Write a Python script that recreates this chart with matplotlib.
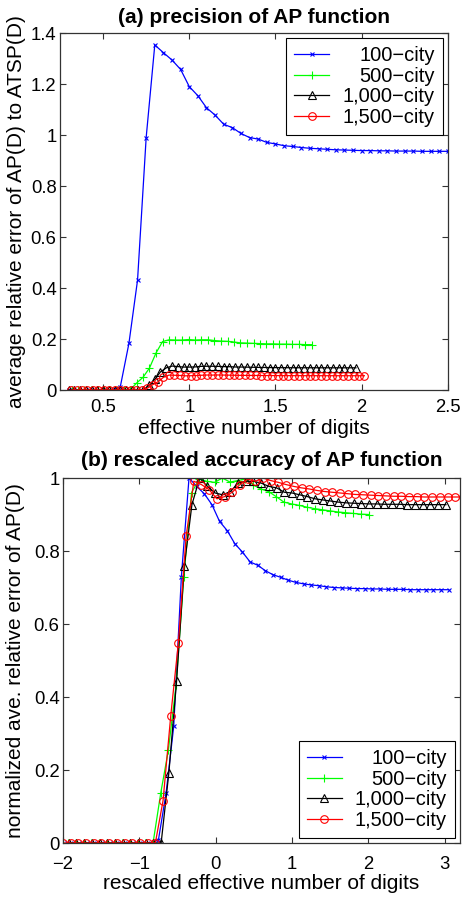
import matplotlib
matplotlib.use('Agg')
import matplotlib.pyplot as plt
from matplotlib.ticker import FixedLocator, FuncFormatter

plt.rcParams['font.family'] = ['Liberation Sans', 'DejaVu Sans']
plt.rcParams['axes.unicode_minus'] = True

# ---------------- data ----------------
labels = ["100\u2212city", "500\u2212city", "1,000\u2212city", "1,500\u2212city"]
colors = ["#0000ff", "#00ff00", "#000000", "#ff0000"]
markers = ["x", "+", "^", "o"]
msizes = [3.5, 5.5, 5.5, 5.5]

# (a) precision of AP function
a_x_100 = [0.30, 0.35, 0.40, 0.45, 0.50, 0.55, 0.60, 0.65, 0.70, 0.75, 0.80, 0.85, 0.90, 0.95,
           1.00, 1.05, 1.10, 1.15, 1.20, 1.25, 1.30, 1.35, 1.40, 1.45, 1.50, 1.55, 1.60, 1.65,
           1.70, 1.75, 1.80, 1.85, 1.90, 1.95, 2.00, 2.05, 2.10, 2.15, 2.20, 2.25, 2.30, 2.35,
           2.40, 2.45, 2.50]
a_y_100 = [0, 0, 0, 0, 0, 0, 0.013, 0.183, 0.431, 0.99, 1.353, 1.323, 1.294, 1.257,
           1.19, 1.154, 1.107, 1.078, 1.042, 1.029, 1.006, 0.99, 0.984, 0.971, 0.965, 0.958,
           0.955, 0.951, 0.948, 0.946, 0.944, 0.942, 0.941, 0.940, 0.939, 0.939, 0.938, 0.938,
           0.937, 0.937, 0.937, 0.936, 0.936, 0.936, 0.936]

a_x_500 = [0.317, 0.355, 0.392, 0.430, 0.468, 0.506, 0.543, 0.581, 0.619, 0.656, 0.694, 0.732,
           0.769, 0.807, 0.845, 0.883, 0.920, 0.958, 0.996, 1.033, 1.071, 1.109, 1.146, 1.184,
           1.222, 1.260, 1.297, 1.335, 1.373, 1.410, 1.448, 1.486, 1.523, 1.561, 1.599, 1.637,
           1.674, 1.712]
a_y_500 = [0, 0, 0, 0, 0, 0, 0, 0, 0, 0, 0.027, 0.05, 0.086, 0.145, 0.19, 0.197, 0.196, 0.196,
           0.198, 0.196, 0.197, 0.197, 0.194, 0.192, 0.191, 0.188, 0.185, 0.184, 0.183, 0.182,
           0.181, 0.181, 0.180, 0.180, 0.179, 0.179, 0.178, 0.178]

a_x_1000 = [0.300, 0.333, 0.367, 0.400, 0.433, 0.467, 0.500, 0.533, 0.567, 0.600, 0.633, 0.667,
            0.700, 0.733, 0.767, 0.800, 0.833, 0.867, 0.900, 0.933, 0.967, 1.000, 1.033, 1.067,
            1.100, 1.133, 1.167, 1.200, 1.233, 1.267, 1.300, 1.333, 1.367, 1.400, 1.433, 1.467,
            1.500, 1.533, 1.567, 1.600, 1.633, 1.667, 1.700, 1.733, 1.767, 1.800, 1.833, 1.867,
            1.900, 1.933, 1.967]
a_y_1000 = [0, 0, 0, 0, 0, 0, 0, 0, 0, 0, 0, 0, 0, 0, 0.018, 0.042, 0.071, 0.087, 0.094, 0.092,
            0.090, 0.090, 0.0905, 0.0927, 0.0932, 0.0932, 0.0927, 0.0918, 0.0915, 0.0903, 0.0901,
            0.0897, 0.0892, 0.0886, 0.0884, 0.0881, 0.0878, 0.0876, 0.0875, 0.0874, 0.0873,
            0.0873, 0.0873, 0.0872, 0.0872, 0.0872, 0.0871, 0.0871, 0.0871, 0.0871, 0.0871]

a_x_1500 = [0.315, 0.346, 0.378, 0.409, 0.441, 0.472, 0.504, 0.535, 0.567, 0.598, 0.630, 0.661,
            0.693, 0.724, 0.756, 0.787, 0.819, 0.850, 0.882, 0.913, 0.945, 0.976, 1.008, 1.039,
            1.071, 1.102, 1.134, 1.165, 1.197, 1.228, 1.260, 1.291, 1.323, 1.354, 1.386, 1.417,
            1.449, 1.480, 1.512, 1.543, 1.575, 1.606, 1.638, 1.669, 1.701, 1.732, 1.764, 1.795,
            1.827, 1.858, 1.890, 1.921, 1.953, 1.984, 2.016]
a_y_1500 = [0, 0, 0, 0, 0, 0, 0, 0, 0, 0, 0, 0, 0, 0, 0.0068, 0.0206, 0.0324, 0.0496, 0.0585,
            0.0579, 0.0571, 0.0556, 0.056, 0.0567, 0.0579, 0.0588, 0.0585, 0.059, 0.0586, 0.0583,
            0.0579, 0.0576, 0.0574, 0.0572, 0.057, 0.0568, 0.0567, 0.0566, 0.0565, 0.0563,
            0.0563, 0.0562, 0.0562, 0.0561, 0.0561, 0.0561, 0.056, 0.056, 0.056, 0.056, 0.056,
            0.056, 0.056, 0.056, 0.056]

# (b) rescaled accuracy of AP function
b_x_100 = [-1.95, -1.85, -1.75, -1.65, -1.55, -1.45, -1.35, -1.25, -1.15, -1.05, -0.95, -0.85,
           -0.75, -0.65, -0.55, -0.45, -0.35, -0.25, -0.15, -0.05, 0.05, 0.15, 0.25, 0.35,
           0.45, 0.55, 0.65, 0.75, 0.85, 0.95, 1.05, 1.15, 1.25, 1.35, 1.45, 1.55, 1.65, 1.75,
           1.85, 1.95, 2.05, 2.15, 2.25, 2.35, 2.45, 2.55, 2.65, 2.75, 2.85, 2.95, 3.05]
b_y_100 = [0, 0, 0, 0, 0, 0, 0, 0, 0, 0, 0, 0, 0.009, 0.137, 0.32, 0.73, 1.0, 0.977, 0.957,
           0.927, 0.881, 0.856, 0.82, 0.797, 0.77, 0.761, 0.746, 0.735, 0.728, 0.72, 0.714,
           0.71, 0.707, 0.705, 0.702, 0.70, 0.699, 0.698, 0.697, 0.697, 0.696, 0.696, 0.695,
           0.695, 0.695, 0.694, 0.694, 0.694, 0.694, 0.694, 0.694]

b_x_500 = [-1.930, -1.829, -1.728, -1.628, -1.527, -1.426, -1.325, -1.224, -1.124, -1.023,
           -0.922, -0.821, -0.720, -0.620, -0.519, -0.418, -0.317, -0.216, -0.116, -0.015,
           0.086, 0.186, 0.288, 0.388, 0.489, 0.590, 0.691, 0.792, 0.892, 0.993, 1.094, 1.195,
           1.296, 1.396, 1.497, 1.598, 1.699, 1.799, 1.900, 2.001]
b_y_500 = [0, 0, 0, 0, 0, 0, 0, 0, 0, 0, 0, 0, 0.137, 0.255, 0.433, 0.73, 0.96, 0.997, 0.991,
           0.988, 1.0, 0.989, 0.993, 0.997, 0.981, 0.97, 0.963, 0.949, 0.934, 0.929, 0.925,
           0.92, 0.916, 0.913, 0.91, 0.907, 0.905, 0.903, 0.901, 0.90]

b_x_1000 = [-1.924, -1.824, -1.723, -1.622, -1.521, -1.420, -1.320, -1.219, -1.118, -1.017,
            -0.916, -0.816, -0.715, -0.614, -0.513, -0.412, -0.312, -0.211, -0.110, -0.009,
            0.092, 0.192, 0.293, 0.394, 0.494, 0.595, 0.696, 0.797, 0.898, 0.999, 1.099, 1.200,
            1.301, 1.401, 1.502, 1.603, 1.704, 1.804, 1.905, 2.006, 2.106, 2.207, 2.308, 2.409,
            2.510, 2.610, 2.711, 2.812, 2.913, 3.014]
b_y_1000 = [0, 0, 0, 0, 0, 0, 0, 0, 0, 0, 0, 0, 0, 0.192, 0.443, 0.758, 0.927, 1.0, 0.977,
            0.959, 0.954, 0.963, 0.986, 0.991, 0.991, 0.986, 0.977, 0.973, 0.961, 0.959, 0.954,
            0.949, 0.943, 0.94, 0.937, 0.934, 0.932, 0.931, 0.930, 0.929, 0.929, 0.928, 0.928,
            0.928, 0.927, 0.927, 0.927, 0.927, 0.927, 0.927]

b_x_1500 = [-1.999, -1.898, -1.798, -1.697, -1.596, -1.496, -1.395, -1.295, -1.194, -1.093,
            -0.992, -0.891, -0.791, -0.690, -0.589, -0.489, -0.388, -0.287, -0.187, -0.086,
            0.015, 0.116, 0.216, 0.317, 0.418, 0.518, 0.619, 0.720, 0.821, 0.921, 1.022, 1.123,
            1.223, 1.324, 1.425, 1.525, 1.626, 1.726, 1.827, 1.928, 2.028, 2.129, 2.230, 2.330,
            2.431, 2.532, 2.632, 2.733, 2.834, 2.934, 3.035, 3.136, 3.236, 3.337]
b_y_1500 = [0, 0, 0, 0, 0, 0, 0, 0, 0, 0, 0, 0, 0, 0.116, 0.349, 0.549, 0.84, 0.991, 0.982,
            0.968, 0.943, 0.949, 0.961, 0.982, 0.997, 0.991, 1.0, 0.993, 0.988, 0.982, 0.977,
            0.973, 0.970, 0.966, 0.963, 0.961, 0.959, 0.957, 0.955, 0.954, 0.953, 0.952, 0.951,
            0.950, 0.950, 0.949, 0.949, 0.948, 0.948, 0.948, 0.948, 0.948, 0.948, 0.948]

a_xticks = [0.5, 1, 1.5, 2, 2.5]
a_yticks = [0, 0.2, 0.4, 0.6, 0.8, 1.0, 1.2, 1.4]
b_xticks = [-2, -1, 0, 1, 2, 3]
b_yticks = [0, 0.2, 0.4, 0.6, 0.8, 1.0]

# ---------------- figure ----------------
fig = plt.figure(figsize=(4.65, 8.97), dpi=100)
ax1 = fig.add_axes([0.129, 0.5652, 0.834, 0.398])
ax2 = fig.add_axes([0.1355, 0.0602, 0.854, 0.4069])

fmt = FuncFormatter(lambda v, p: ("%g" % v).replace("-", "\u2212"))


def draw(ax, xs, ys):
    for x, y, c, m, ms, lab in zip(xs, ys, colors, markers, msizes, labels):
        ax.plot(x, y, color=c, lw=0.9, marker=m, ms=ms, mfc='none', mec=c, mew=0.8,
                label=lab)


draw(ax1, [a_x_100, a_x_500, a_x_1000, a_x_1500], [a_y_100, a_y_500, a_y_1000, a_y_1500])
draw(ax2, [b_x_100, b_x_500, b_x_1000, b_x_1500], [b_y_100, b_y_500, b_y_1000, b_y_1500])

ax1.set_xlim(0.25, 2.5)
ax1.set_ylim(0, 1.4)
ax2.set_xlim(-2, 3.2)
ax2.set_ylim(0, 1.0)

for ax, xt, yt in [(ax1, a_xticks, a_yticks), (ax2, b_xticks, b_yticks)]:
    ax.xaxis.set_major_locator(FixedLocator(xt))
    ax.yaxis.set_major_locator(FixedLocator(yt))
    ax.xaxis.set_major_formatter(fmt)
    ax.yaxis.set_major_formatter(fmt)
    ax.tick_params(direction='in', top=True, right=True, length=4, width=0.8,
                   labelsize=13.3, color='#333333')
    ax.tick_params(axis='y', pad=2.5)
    for s in ax.spines.values():
        s.set_color('#333333')
        s.set_linewidth(0.9)

ax1.tick_params(axis='x', pad=6.5)
ax2.tick_params(axis='x', pad=9.5)

ax1.set_title("(a) precision of AP function", fontsize=15, fontweight='bold', pad=7.4)
ax2.set_title("(b) rescaled accuracy of AP function", fontsize=15, fontweight='bold', pad=8.6)
ax1.set_xlabel("effective number of digits", fontsize=15, labelpad=2)
ax2.set_xlabel("rescaled effective number of digits", fontsize=15, labelpad=0.5)
ax1.set_ylabel("average relative error of AP(D) to ATSP(D)", fontsize=15)
ax2.set_ylabel("normalized ave. relative error of AP(D)", fontsize=15)
ax1.yaxis.set_label_coords((26 - 60) / 388.0, 0.5)
ax2.yaxis.set_label_coords((25 - 63) / 397.0, 0.5)

legs = []
for ax, loc in [(ax1, 'upper right'), (ax2, 'lower right')]:
    leg = ax.legend(loc=loc, fontsize=14.5, handlelength=1.75, handletextpad=0.65,
                    borderpad=0.4, labelspacing=0.08, borderaxespad=0.25,
                    fancybox=False, framealpha=1, edgecolor='black')
    leg.get_frame().set_linewidth(0.8)
    legs.append(leg)

# right-align the legend texts
fig.canvas.draw()
r = fig.canvas.get_renderer()
for leg in legs:
    texts = leg.get_texts()
    ws = [t.get_window_extent(r).width for t in texts]
    m = max(ws)
    for t, w in zip(texts, ws):
        t.set_x(m - w)

fig.savefig("out.png", dpi=100)
